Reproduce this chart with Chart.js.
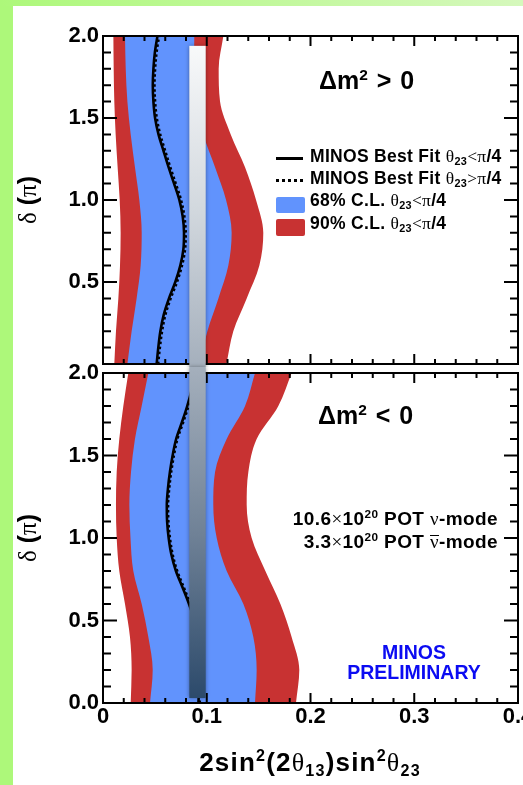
<!DOCTYPE html>
<html>
<head>
<meta charset="utf-8">
<script src="https://cdn.jsdelivr.net/npm/chart.js@4.4.1/dist/chart.umd.min.js"></script>
<style>
  html, body { margin: 0; padding: 0; width: 523px; height: 785px; overflow: hidden; background: #fff; }
  .rim-left { position: absolute; left: 0; top: 0; width: 13px; height: 785px; background: #adf87a; }
  .rim-top { position: absolute; left: 0; top: 0; width: 523px; height: 6px; background: linear-gradient(to right, #adf87a, #d5f8bc); }
  canvas { position: absolute; left: 13px; }
  #cvTop { top: 6px; }
  #cvBottom { top: 352px; }
  .t { position: absolute; white-space: nowrap; font-family: "Liberation Sans", Arial, sans-serif; font-weight: bold; color: #000; }
  .g { font-family: "Liberation Serif", "DejaVu Serif", serif; font-weight: normal; }
  .bar { display: inline-block; line-height: 0.5em; border-top: 1.5px solid #000; padding-top: 1px; }
  sub, sup { font-size: 0.62em; line-height: 0; }
  sub { vertical-align: -0.32em; }
  sup { vertical-align: 0.6em; }
  .key { position: absolute; }
  .legend { font-size: 17.5px; line-height: 17.5px; letter-spacing: 0.3px; left: 310px; }
  .ytitle { position: absolute; width: 120px; height: 26px; line-height: 26px; font-size: 25px; text-align: center; transform: rotate(-90deg); }
</style>
</head>
<body>
<div class="rim-left"></div>
<div class="rim-top"></div>
<canvas id="cvTop" width="540" height="361"></canvas>
<canvas id="cvBottom" width="540" height="433"></canvas>

<div class="t" style="left:319px;top:68px;font-size:25px;line-height:25px;word-spacing:2px">&Delta;m<sup>2</sup> &gt; 0</div>
<div class="t" style="left:318px;top:403px;font-size:25px;line-height:25px;word-spacing:2px">&Delta;m<sup>2</sup> &lt; 0</div>

<div class="key" style="left:276px;top:157px;width:27px;height:3px;background:#000"></div>
<div class="key" style="left:276px;top:179px;width:27px;height:3px;background:repeating-linear-gradient(to right,#000 0 3px,transparent 3px 6px)"></div>
<div class="key" id="keyBlue" style="left:276px;top:197px;width:29px;height:16px;border-radius:2px"></div>
<div class="key" id="keyRed" style="left:276px;top:219px;width:29px;height:17px;border-radius:2px"></div>
<div class="t legend" style="top:148px">MINOS Best Fit <span class="g">&theta;</span><sub>23</sub><span class="g">&lt;&pi;</span>/4</div>
<div class="t legend" style="top:170px">MINOS Best Fit <span class="g">&theta;</span><sub>23</sub><span class="g">&gt;&pi;</span>/4</div>
<div class="t legend" style="top:192px">68% C.L. <span class="g">&theta;</span><sub>23</sub><span class="g">&lt;&pi;</span>/4</div>
<div class="t legend" style="top:215px">90% C.L. <span class="g">&theta;</span><sub>23</sub><span class="g">&lt;&pi;</span>/4</div>

<div class="t" style="right:25px;top:509px;font-size:19px;line-height:19px;letter-spacing:0.4px">10.6<span class="g">&times;</span>10<sup>20</sup> POT <span class="g">&nu;</span>-mode</div>
<div class="t" style="right:25px;top:532px;font-size:19px;line-height:19px;letter-spacing:0.4px">3.3<span class="g">&times;</span>10<sup>20</sup> POT <span class="g bar">&nu;</span>-mode</div>

<div class="t" style="left:314px;width:200px;text-align:center;top:643px;font-size:19.5px;line-height:19.5px;color:#0b0bf2">MINOS</div>
<div class="t" style="left:314px;width:200px;text-align:center;top:663px;font-size:19.5px;line-height:19.5px;color:#0b0bf2">PRELIMINARY</div>

<div class="t" style="left:110px;width:400px;text-align:center;top:749px;font-size:26px;line-height:26px;letter-spacing:1.2px">2sin<sup>2</sup>(2<span class="g">&theta;</span><sub>13</sub>)sin<sup>2</sup><span class="g">&theta;</span><sub>23</sub></div>

<div class="t ytitle" style="left:-33px;top:187px"><span class="g">&delta;</span> (<span class="g">&pi;</span>)</div>
<div class="t ytitle" style="left:-33px;top:525px"><span class="g">&delta;</span> (<span class="g">&pi;</span>)</div>

<script>
// δ (in units of π) where the contour edges were sampled
const deltaGrid = [0.0, 0.2, 0.4, 0.6, 0.8, 1.0, 1.2, 1.4, 1.6, 1.8, 2.0];
// δ for the best-fit curves
const deltaFine = [0.0, 0.1, 0.2, 0.3, 0.4, 0.5, 0.6, 0.7, 0.8, 0.9, 1.0,
                   1.1, 1.2, 1.3, 1.4, 1.5, 1.6, 1.7, 1.8, 1.9, 2.0];

// normal hierarchy (Δm² > 0): left/right edges of the 90% and 68% regions
const nhLeft90  = [0.0109, 0.0125, 0.0148, 0.0164, 0.0170, 0.0161, 0.0141, 0.0122, 0.0109, 0.0103, 0.0100];
const nhRight90 = [0.1190, 0.1256, 0.1385, 0.1507, 0.1545, 0.1475, 0.1369, 0.1231, 0.1128, 0.1115, 0.1160];
const nhLeft68  = [0.0235, 0.0276, 0.0324, 0.0363, 0.0373, 0.0350, 0.0308, 0.0267, 0.0235, 0.0219, 0.0212];
const nhRight68 = [0.0935, 0.1006, 0.1112, 0.1208, 0.1240, 0.1186, 0.1080, 0.0967, 0.0896, 0.0877, 0.0880];
const nhFitLow  = [0.0517, 0.0533, 0.0553, 0.0585, 0.0636, 0.0697, 0.0745, 0.0775, 0.0781, 0.0768, 0.0736,
                   0.0685, 0.0632, 0.0583, 0.0535, 0.0502, 0.0486, 0.0480, 0.0486, 0.0500, 0.0525];
const nhFitHigh = [0.0531, 0.0548, 0.0569, 0.0601, 0.0652, 0.0713, 0.0761, 0.0791, 0.0797, 0.0784, 0.0752,
                   0.0701, 0.0648, 0.0599, 0.0551, 0.0518, 0.0502, 0.0496, 0.0502, 0.0516, 0.0540];

// inverted hierarchy (Δm² < 0)
const ihLeft90  = [0.0267, 0.0276, 0.0260, 0.0212, 0.0157, 0.0132, 0.0125, 0.0132, 0.0157, 0.0196, 0.0244];
const ihRight90 = [0.1860, 0.1892, 0.1818, 0.1710, 0.1565, 0.1433, 0.1385, 0.1401, 0.1481, 0.1690, 0.1818];
const ihLeft68  = [0.0453, 0.0479, 0.0437, 0.0373, 0.0292, 0.0265, 0.0254, 0.0270, 0.0308, 0.0373, 0.0437];
const ihRight68 = [0.1465, 0.1481, 0.1449, 0.1353, 0.1192, 0.1096, 0.1063, 0.1080, 0.1192, 0.1369, 0.1465];
const ihFitLow  = [0.0920, 0.0925, 0.0925, 0.0915, 0.0905, 0.0880, 0.0829, 0.0767, 0.0703, 0.0659, 0.0633,
                   0.0618, 0.0615, 0.0626, 0.0645, 0.0671, 0.0705, 0.0760, 0.0812, 0.0855, 0.0885];
const ihFitHigh = [0.0932, 0.0937, 0.0937, 0.0927, 0.0917, 0.0892, 0.0841, 0.0779, 0.0715, 0.0671, 0.0645,
                   0.0630, 0.0627, 0.0638, 0.0657, 0.0683, 0.0717, 0.0772, 0.0824, 0.0867, 0.0897];

// reactor sin²2θ13 band drawn across both panels
const reactorBand = [0.0832, 0.0990];
const reactorTopDelta = 1.94;     // upper end, Δm² > 0 panel
const reactorBottomDelta = 0.03;  // lower end, Δm² < 0 panel

const xTickLabels = ['0', '0.1', '0.2', '0.3', '0.4'];
const yTickLabelsTop = ['', '0.5', '1.0', '1.5', '2.0'];
const yTickLabelsBottom = ['0.0', '0.5', '1.0', '1.5', '2.0'];

const RED = '#c83232';
const BLUE = '#6193fd';
document.getElementById('keyBlue').style.background = BLUE;
document.getElementById('keyRed').style.background = RED;

const tickFont = { family: '"Liberation Sans", Arial, sans-serif', weight: 'bold', size: 22 };
const isMult = (v, step) => Math.abs(v / step - Math.round(v / step)) < 1e-6;
const pts = (xs, ys) => xs.map((v, i) => ({ x: v, y: ys[i] }));

// frame with ROOT-style inward ticks on all four sides
const frameTicks = {
  id: 'frameTicks',
  afterDatasetsDraw(chart) {
    const { ctx, chartArea: a, scales: { x, y } } = chart;
    ctx.save();
    ctx.strokeStyle = '#000';
    ctx.lineWidth = 2;
    ctx.beginPath();
    y.ticks.forEach(t => {
      const p = y.getPixelForValue(t.value);
      const len = isMult(t.value, 0.5) ? 14 : 8;
      ctx.moveTo(a.left, p); ctx.lineTo(a.left + len, p);
      ctx.moveTo(a.right, p); ctx.lineTo(a.right - len, p);
    });
    x.ticks.forEach(t => {
      const p = x.getPixelForValue(t.value);
      const len = isMult(t.value, 0.1) ? 10 : 5;
      ctx.moveTo(p, a.bottom); ctx.lineTo(p, a.bottom - len);
      ctx.moveTo(p, a.top); ctx.lineTo(p, a.top + len);
    });
    ctx.stroke();
    ctx.strokeRect(a.left, a.top, a.right - a.left, a.bottom - a.top);
    ctx.restore();
  }
};

// vertical reactor band; its gradient runs in page coordinates so both panels join up
const span = { top: null, bottom: null, seam: null };
const reactorBar = {
  id: 'reactorBar',
  afterDraw(chart, args, o) {
    const { ctx, scales: { x, y } } = chart;
    const off = chart.canvas.offsetTop;
    if (o.top != null) {
      span.top = off + y.getPixelForValue(o.top);
      span.seam = off + chart.height;
    }
    if (o.bottom != null) span.bottom = off + y.getPixelForValue(o.bottom);
    if (span.top == null || span.bottom == null) return;
    const x0 = x.getPixelForValue(reactorBand[0]);
    const x1 = x.getPixelForValue(reactorBand[1]);
    // the lower panel picks the band up where the upper canvas ends
    const y0 = o.top != null ? y.getPixelForValue(o.top) : Math.max(0, span.seam - off);
    const y1 = o.bottom != null ? y.getPixelForValue(o.bottom) : chart.height;
    const g = ctx.createLinearGradient(0, span.top - off, 0, span.bottom - off);
    g.addColorStop(0, '#f8f9fa');
    g.addColorStop(0.25, '#d2d8de');
    g.addColorStop(0.5, '#a3aebb');
    g.addColorStop(0.75, '#6f8196');
    g.addColorStop(1, '#2c4a6b');
    ctx.save();
    ctx.shadowColor = 'rgba(0,0,0,0.35)';
    ctx.shadowBlur = 4;
    ctx.fillStyle = g;
    ctx.fillRect(x0, y0, x1 - x0, y1 - y0);
    ctx.restore();
  }
};

function panel(canvasId, c) {
  const line = { pointRadius: 0, borderWidth: 0, fill: false };
  return new Chart(document.getElementById(canvasId), {
    type: 'line',
    data: {
      datasets: [
        { data: pts(c.fitLow, deltaFine), borderColor: '#000', borderWidth: 2.6, pointRadius: 0, fill: false },
        { data: pts(c.fitHigh, deltaFine), borderColor: '#000', borderWidth: 2.6, borderDash: [2.5, 2.5], pointRadius: 0, fill: false },
        { ...line, data: pts(c.left68, deltaGrid) },
        { ...line, data: pts(c.right68, deltaGrid), fill: '-1', backgroundColor: BLUE },
        { ...line, data: pts(c.left90, deltaGrid) },
        { ...line, data: pts(c.right90, deltaGrid), fill: '-1', backgroundColor: RED }
      ]
    },
    options: {
      responsive: false,
      animation: false,
      indexAxis: 'y',
      events: [],
      layout: { padding: { left: 0, right: 35, top: c.padTop, bottom: 0 } },
      elements: { line: { cubicInterpolationMode: 'monotone' } },
      plugins: {
        legend: { display: false },
        tooltip: { enabled: false },
        reactorBar: { top: c.barTop, bottom: c.barBottom }
      },
      scales: {
        x: {
          type: 'linear', position: 'bottom', min: 0, max: 0.4,
          grid: { display: false, drawTicks: false },
          border: { display: false },
          ticks: {
            display: c.xLabels, stepSize: 0.02, maxTicksLimit: 100, autoSkip: false, maxRotation: 0,
            padding: 1, color: '#000', font: tickFont,
            callback: v => isMult(v, 0.1) ? xTickLabels[Math.round(v / 0.1)] : ''
          },
          afterFit: s => { s.height = c.xHeight; s.paddingLeft = 0; s.paddingRight = 0; }
        },
        y: {
          type: 'linear', position: 'left', min: 0, max: 2,
          grid: { display: false, drawTicks: false },
          border: { display: false },
          ticks: {
            stepSize: 0.1, maxTicksLimit: 100, autoSkip: false, padding: 4,
            color: '#000', font: tickFont,
            callback: v => isMult(v, 0.5) ? c.yLabels[Math.round(v / 0.5)] : ''
          },
          afterFit: s => { s.width = 90; s.paddingTop = 0; s.paddingBottom = 0; }
        }
      }
    },
    plugins: [frameTicks, reactorBar]
  });
}

const upper = panel('cvTop', {
  left90: nhLeft90, right90: nhRight90, left68: nhLeft68, right68: nhRight68,
  fitLow: nhFitLow, fitHigh: nhFitHigh,
  yLabels: yTickLabelsTop, xLabels: false, padTop: 30, xHeight: 3,
  barTop: reactorTopDelta, barBottom: null
});
const lower = panel('cvBottom', {
  left90: ihLeft90, right90: ihRight90, left68: ihLeft68, right68: ihRight68,
  fitLow: ihFitLow, fitHigh: ihFitHigh,
  yLabels: yTickLabelsBottom, xLabels: true, padTop: 21, xHeight: 82,
  barTop: null, barBottom: reactorBottomDelta
});
upper.draw();
lower.draw();
</script>
</body>
</html>
